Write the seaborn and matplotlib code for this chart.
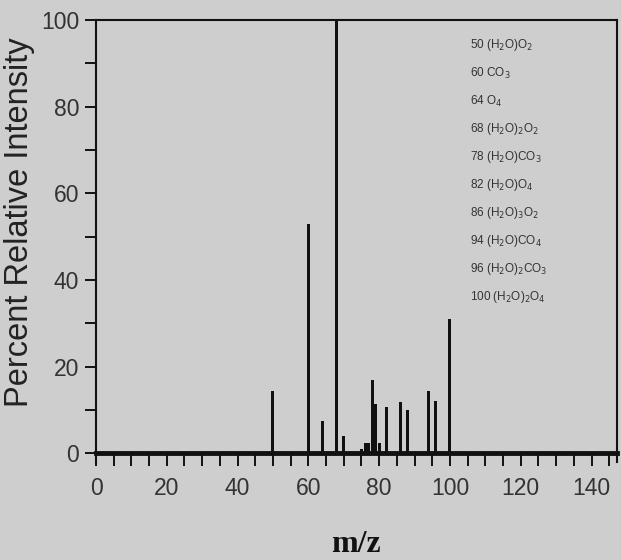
import pandas as pd
import matplotlib
matplotlib.use("Agg")
import matplotlib.pyplot as plt
import seaborn as sns
from matplotlib.ticker import MultipleLocator

# peak positions (m/z) and percent relative intensity
mz = [50, 60, 64, 68, 70, 75, 76, 77, 78, 79, 80, 82, 86, 88, 94, 96, 100]
intensity = [14.5, 53, 7.5, 100, 4, 1, 2.5, 2.5, 17, 11.5, 2.5, 10.8, 11.8, 10, 14.3, 12, 31]

# peak assignments listed in the upper right
assignments = [
    "50 (H$_2$O)O$_2$",
    "60 CO$_3$",
    "64 O$_4$",
    "68 (H$_2$O)$_2$O$_2$",
    "78 (H$_2$O)CO$_3$",
    "82 (H$_2$O)O$_4$",
    "86 (H$_2$O)$_3$O$_2$",
    "94 (H$_2$O)CO$_4$",
    "96 (H$_2$O)$_2$CO$_3$",
    "100 (H$_2$O)$_2$O$_4$",
]

df = pd.DataFrame({"mz": mz, "intensity": intensity})

bg = "#cecece"
sns.set_theme(style="ticks")
plt.rcParams["font.family"] = ["Liberation Sans", "DejaVu Sans"]

fig = plt.figure(figsize=(6.21, 5.6), dpi=100, facecolor=bg)
ax = fig.add_axes([0.1546, 0.175, 0.839, 0.789], facecolor=bg)

sns.barplot(data=df, x="mz", y="intensity", native_scale=True, width=0.85,
            color="#111111", errorbar=None, ax=ax, saturation=1, linewidth=0)

ax.set_xlim(0, 147.2)
ax.set_ylim(-2, 100)
ax.spines["bottom"].set_position(("data", 0))
ax.spines["bottom"].set_linewidth(3.5)
for s in ["left", "top", "right"]:
    ax.spines[s].set_linewidth(1.5)
    ax.spines[s].set_color("#111111")
ax.spines["bottom"].set_color("#111111")

ax.xaxis.set_major_locator(MultipleLocator(20))
ax.xaxis.set_minor_locator(MultipleLocator(5))
ax.yaxis.set_major_locator(MultipleLocator(20))
ax.yaxis.set_minor_locator(MultipleLocator(10))
ax.tick_params(axis="both", which="both", direction="out", width=1.4, color="#111111")
ax.tick_params(axis="y", which="both", length=8, labelsize=16.5, pad=4, labelcolor="#333333")
ax.tick_params(axis="x", which="both", length=9, labelsize=16.5, pad=8, labelcolor="#333333")
ax.set_xlabel("")
ax.set_ylabel("")

fig.text(20 / 621, 1 - 222 / 560, "Percent Relative Intensity", rotation=90,
         ha="center", va="center", fontsize=23.5, color="#222222")
fig.text(356 / 621, 1 - 544 / 560, "m/z", ha="center", va="center",
         fontsize=23, fontweight="bold", family=["Liberation Serif"], color="#111111")

for i, label in enumerate(assignments):
    ax.text(0.718, 0.943 - i * 0.0633, label, transform=ax.transAxes,
            ha="left", va="center", fontsize=8.5, color="#333333")

fig.savefig("out.png", dpi=100, facecolor=bg)
